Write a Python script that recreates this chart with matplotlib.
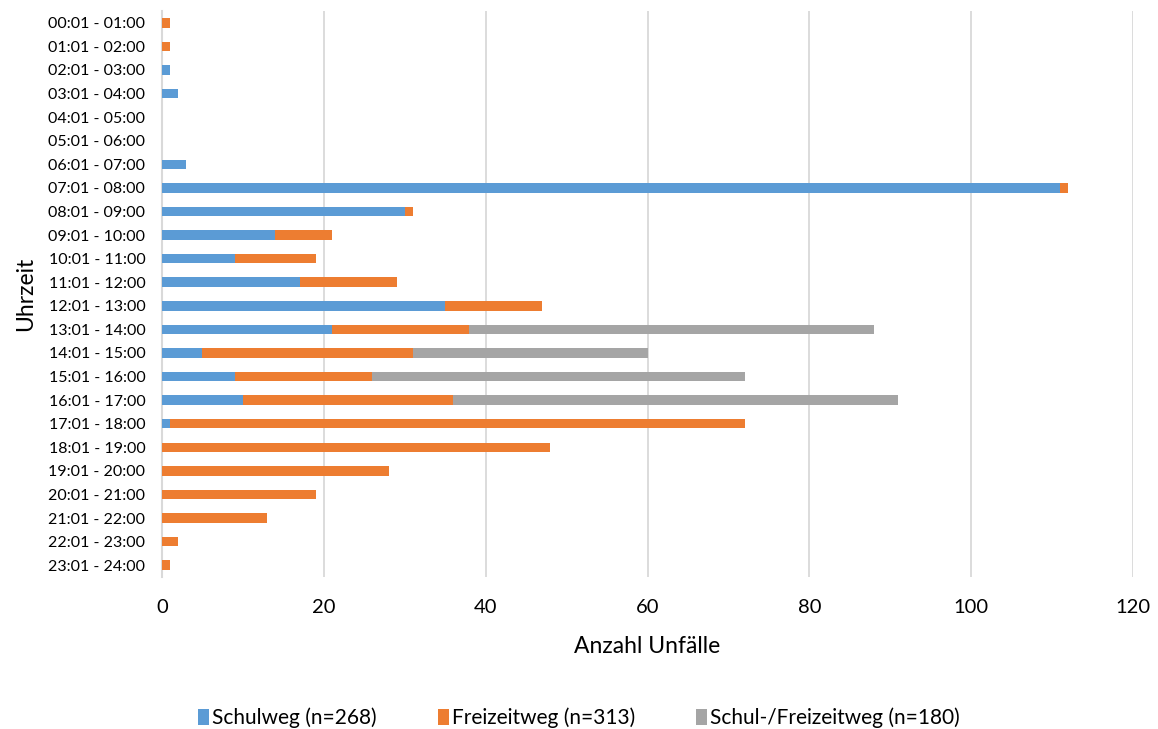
import matplotlib
matplotlib.use("Agg")
import matplotlib.pyplot as plt
from matplotlib.patches import Patch

categories = ["00:01 - 01:00", "01:01 - 02:00", "02:01 - 03:00", "03:01 - 04:00",
              "04:01 - 05:00", "05:01 - 06:00", "06:01 - 07:00", "07:01 - 08:00",
              "08:01 - 09:00", "09:01 - 10:00", "10:01 - 11:00", "11:01 - 12:00",
              "12:01 - 13:00", "13:01 - 14:00", "14:01 - 15:00", "15:01 - 16:00",
              "16:01 - 17:00", "17:01 - 18:00", "18:01 - 19:00", "19:01 - 20:00",
              "20:01 - 21:00", "21:01 - 22:00", "22:01 - 23:00", "23:01 - 24:00"]
schulweg = [0, 0, 1, 2, 0, 0, 3, 111, 30, 14, 9, 17, 35, 21, 5, 9, 10, 1, 0, 0, 0, 0, 0, 0]
freizeitweg = [1, 1, 0, 0, 0, 0, 0, 1, 1, 7, 10, 12, 12, 17, 26, 17, 26, 71, 48, 28, 19, 13, 2, 1]
schul_freizeit = [0, 0, 0, 0, 0, 0, 0, 0, 0, 0, 0, 0, 0, 50, 29, 46, 55, 0, 0, 0, 0, 0, 0, 0]
series_labels = ["Schulweg (n=268)", "Freizeitweg (n=313)", "Schul-/Freizeitweg (n=180)"]
colors = ["#5B9BD5", "#ED7D31", "#A5A5A5"]
xticks = [0, 20, 40, 60, 80, 100, 120]

plt.rcParams['font.family'] = ['Lato', 'DejaVu Sans']

fig = plt.figure(figsize=(11.58, 7.29), dpi=100)
ax = fig.add_axes([162/1158, 1-577/729, (1133-162)/1158, (577-11)/729])

y = list(range(len(categories)))
left = [0]*len(categories)
for vals, col in zip([schulweg, freizeitweg, schul_freizeit], colors):
    ax.barh(y, vals, left=left, height=0.4, color=col, edgecolor='none', zorder=3)
    left = [a+b for a, b in zip(left, vals)]

ax.set_xlim(0, 120)
ax.set_ylim(len(categories)-0.5, -0.5)
ax.set_yticks(y)
ax.set_yticklabels(categories, fontsize=11.5)
ax.set_xticks(xticks)
ax.set_xticklabels([str(t) for t in xticks], fontsize=14.5)
ax.tick_params(axis='both', length=0)
ax.tick_params(axis='x', pad=16)
ax.tick_params(axis='y', pad=12)
ax.grid(axis='x', color='#D9D9D9', linewidth=1.3, zorder=0)
for s in ['top', 'right', 'bottom']:
    ax.spines[s].set_visible(False)
ax.spines['left'].set_color('#D9D9D9')
ax.spines['left'].set_linewidth(1.5)

ax.set_xlabel("Anzahl Unfälle", fontsize=16.5, labelpad=14)
ax.set_ylabel("Uhrzeit", fontsize=16.5, labelpad=9)

handles = [Patch(facecolor=c, label=l) for c, l in zip(colors, series_labels)]
fig.legend(handles=handles, loc='center', bbox_to_anchor=(0.5, 1-718/729), ncol=3,
           frameon=False, fontsize=15, handlelength=0.55, handleheight=0.85,
           handletextpad=0.15, columnspacing=2.9)

fig.savefig("out.png", dpi=100)
